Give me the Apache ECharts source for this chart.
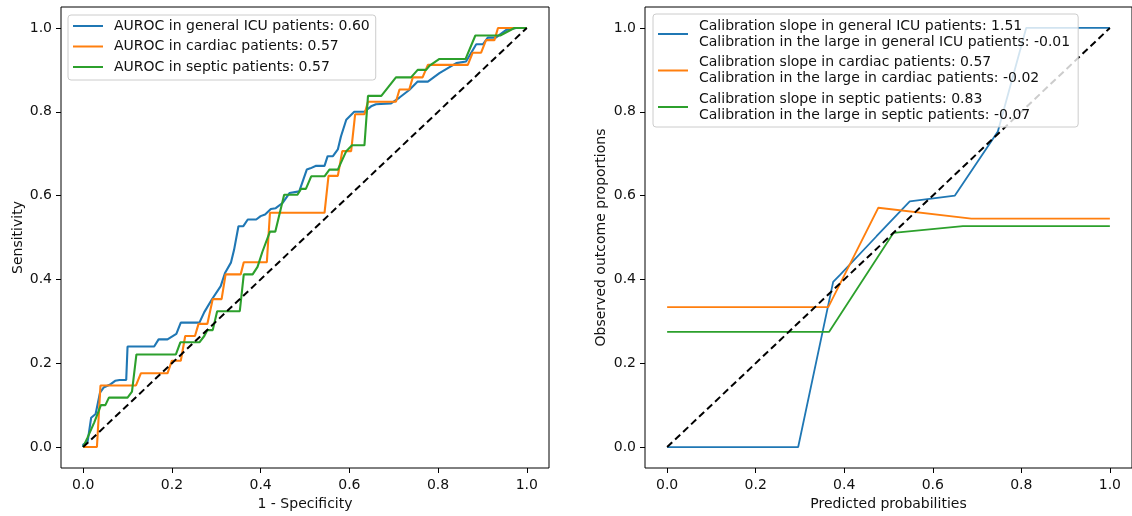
<!DOCTYPE html>
<html>
<head>
<meta charset="utf-8">
<script src="https://cdn.jsdelivr.net/npm/echarts@6/dist/echarts.min.js"></script>
<style>
  html, body { margin: 0; padding: 0; background: #fff; }
  #chart { width: 1132px; height: 516px; }
</style>
</head>
<body>
<div id="chart"></div>
<script>
// Axis ticks shared by both panels
const tickValues = [0, 0.2, 0.4, 0.6, 0.8, 1.0];

// ROC curves: [1 - specificity, sensitivity]
const rocGeneral = [[0,0],[0,0.006],[0.01,0.013],[0.018,0.07],[0.028,0.079],[0.038,0.13],[0.046,0.142],[0.062,0.15],[0.072,0.158],[0.082,0.16],[0.097,0.16],[0.1,0.24],[0.16,0.24],[0.17,0.257],[0.19,0.257],[0.21,0.27],[0.22,0.297],[0.262,0.297],[0.273,0.322],[0.29,0.352],[0.31,0.384],[0.32,0.416],[0.333,0.44],[0.34,0.47],[0.35,0.527],[0.361,0.527],[0.371,0.543],[0.39,0.543],[0.40,0.551],[0.41,0.555],[0.423,0.568],[0.434,0.57],[0.45,0.583],[0.465,0.606],[0.487,0.61],[0.504,0.662],[0.512,0.665],[0.525,0.671],[0.544,0.671],[0.551,0.694],[0.563,0.694],[0.574,0.71],[0.581,0.741],[0.593,0.781],[0.611,0.8],[0.634,0.8],[0.649,0.813],[0.66,0.818],[0.694,0.82],[0.713,0.834],[0.735,0.852],[0.754,0.872],[0.777,0.872],[0.803,0.892],[0.841,0.916],[0.863,0.92],[0.886,0.961],[0.901,0.961],[0.912,0.977],[0.93,0.977],[0.953,0.995],[0.976,1],[1,1]];
const rocCardiac = [[0,0],[0.031,0],[0.039,0.147],[0.119,0.147],[0.13,0.176],[0.19,0.176],[0.2,0.206],[0.22,0.206],[0.23,0.265],[0.252,0.265],[0.26,0.294],[0.28,0.294],[0.292,0.353],[0.312,0.353],[0.321,0.412],[0.355,0.412],[0.362,0.441],[0.414,0.441],[0.421,0.559],[0.544,0.559],[0.553,0.647],[0.574,0.647],[0.584,0.706],[0.604,0.706],[0.613,0.794],[0.634,0.794],[0.642,0.824],[0.705,0.824],[0.713,0.853],[0.735,0.853],[0.743,0.882],[0.765,0.882],[0.777,0.912],[0.867,0.912],[0.878,0.941],[0.897,0.941],[0.908,0.971],[0.927,0.971],[0.935,1],[1,1]];
const rocSeptic = [[0,0],[0.01,0.023],[0.025,0.059],[0.04,0.1],[0.05,0.1],[0.058,0.118],[0.1,0.118],[0.11,0.132],[0.12,0.221],[0.209,0.221],[0.219,0.25],[0.262,0.25],[0.273,0.265],[0.28,0.279],[0.292,0.279],[0.302,0.324],[0.353,0.324],[0.362,0.412],[0.382,0.412],[0.393,0.43],[0.404,0.466],[0.421,0.514],[0.433,0.514],[0.453,0.602],[0.483,0.602],[0.491,0.616],[0.502,0.616],[0.514,0.646],[0.544,0.646],[0.555,0.662],[0.574,0.662],[0.593,0.706],[0.606,0.72],[0.634,0.72],[0.642,0.838],[0.672,0.838],[0.705,0.882],[0.739,0.882],[0.754,0.9],[0.773,0.9],[0.781,0.91],[0.803,0.926],[0.862,0.926],[0.884,0.982],[0.94,0.982],[0.972,1],[1,1]];

// Calibration curves: [predicted probability, observed proportion]
const calGeneral = [[0,0],[0.296,0],[0.375,0.394],[0.39,0.41],[0.473,0.503],[0.548,0.586],[0.65,0.6],[0.747,0.753],[0.811,1],[1,1]];
const calCardiac = [[0,0.334],[0.364,0.334],[0.477,0.571],[0.687,0.545],[1,0.545]];
const calSeptic = [[0,0.275],[0.366,0.275],[0.511,0.511],[0.668,0.527],[1,0.527]];

// Reference diagonal
const diagonal = [[0,0],[1,1]];

// Legend texts
const rocLabels = [
  'AUROC in general ICU patients: 0.60',
  'AUROC in cardiac patients: 0.57',
  'AUROC in septic patients: 0.57'
];
const slopeLabels = [
  'Calibration slope in general ICU patients: 1.51',
  'Calibration slope in cardiac patients: 0.57',
  'Calibration slope in septic patients: 0.83'
];
const largeLabels = [
  'Calibration in the large in general ICU patients: -0.01',
  'Calibration in the large in cardiac patients: -0.02',
  'Calibration in the large in septic patients: -0.07'
];

const colors = ['#1f77b4', '#ff7f0e', '#2ca02c'];
const FONT = 'DejaVu Sans';
const TXT = '#111';

function valueAxis(gridIndex, name, nameGap, labelMargin) {
  return {
    type: 'value',
    gridIndex: gridIndex,
    min: -0.05,
    max: 1.05,
    name: name,
    nameLocation: 'middle',
    nameGap: nameGap,
    nameTextStyle: { fontFamily: FONT, fontSize: 14, color: TXT },
    axisLine: { show: false, onZero: false },
    splitLine: { show: false },
    axisTick: {
      show: true, length: 5, inside: false,
      customValues: tickValues,
      lineStyle: { color: '#000', width: 1 }
    },
    axisLabel: {
      customValues: tickValues,
      margin: labelMargin,
      fontFamily: FONT, fontSize: 14, color: TXT,
      formatter: v => v.toFixed(1)
    }
  };
}

const legendBase = {
  orient: 'vertical',
  backgroundColor: 'rgba(255,255,255,0.8)',
  borderColor: '#cccccc',
  borderWidth: 1,
  borderRadius: 3,
  itemWidth: 30,
  itemHeight: 16,
  itemGap: 4.5,
  icon: 'path://M0,7H30V9H0Z',
  z: 10
};

const chart = echarts.init(document.getElementById('chart'), null, { renderer: 'canvas' });

const series = [];
[rocGeneral, rocCardiac, rocSeptic].forEach((d, i) => {
  series.push({
    name: rocLabels[i], type: 'line', xAxisIndex: 0, yAxisIndex: 0,
    data: d, symbol: 'none', smooth: false,
    lineStyle: { color: colors[i], width: 2.1 },
    itemStyle: { color: colors[i] }
  });
});
series.push({
  name: 'diag-roc', type: 'line', xAxisIndex: 0, yAxisIndex: 0,
  data: diagonal, symbol: 'none',
  lineStyle: { color: '#000', width: 2, type: [7, 4] }
});
[calGeneral, calCardiac, calSeptic].forEach((d, i) => {
  series.push({
    name: slopeLabels[i], type: 'line', xAxisIndex: 1, yAxisIndex: 1,
    data: d, symbol: 'none', smooth: false,
    lineStyle: { color: colors[i], width: 1.8 },
    itemStyle: { color: colors[i] }
  });
});
series.push({
  name: 'diag-cal', type: 'line', xAxisIndex: 1, yAxisIndex: 1,
  data: diagonal, symbol: 'none',
  lineStyle: { color: '#000', width: 2, type: [7, 4] }
});

chart.setOption({
  animation: false,
  backgroundColor: '#fff',
  grid: [
    { left: 61, top: 7, width: 488, height: 462, show: true, borderColor: '#000', borderWidth: 1, backgroundColor: 'transparent' },
    { left: 645, top: 7, width: 488, height: 462, show: true, borderColor: '#000', borderWidth: 1, backgroundColor: 'transparent' }
  ],
  xAxis: [
    valueAxis(0, '1 - Specificity', 29, 10),
    valueAxis(1, 'Predicted probabilities', 29, 10)
  ],
  yAxis: [
    valueAxis(0, 'Sensitivity', 36, 9),
    valueAxis(1, 'Observed outcome proportions', 37, 9)
  ],
  legend: [
    Object.assign({}, legendBase, {
      left: 68, top: 15,
      padding: [3, 6, 5, 5],
      data: rocLabels,
      textStyle: { fontFamily: FONT, fontSize: 14, color: TXT, lineHeight: 16, padding: [0, 0, 0, 6] }
    }),
    Object.assign({}, legendBase, {
      left: 653, top: 14,
      padding: [4, 8, 4, 5],
      data: slopeLabels,
      formatter: name => name + '\n' + largeLabels[slopeLabels.indexOf(name)],
      textStyle: { fontFamily: FONT, fontSize: 14, color: TXT, lineHeight: 16, padding: [0, 0, 0, 6] }
    })
  ],
  series: series
});
</script>
</body>
</html>
